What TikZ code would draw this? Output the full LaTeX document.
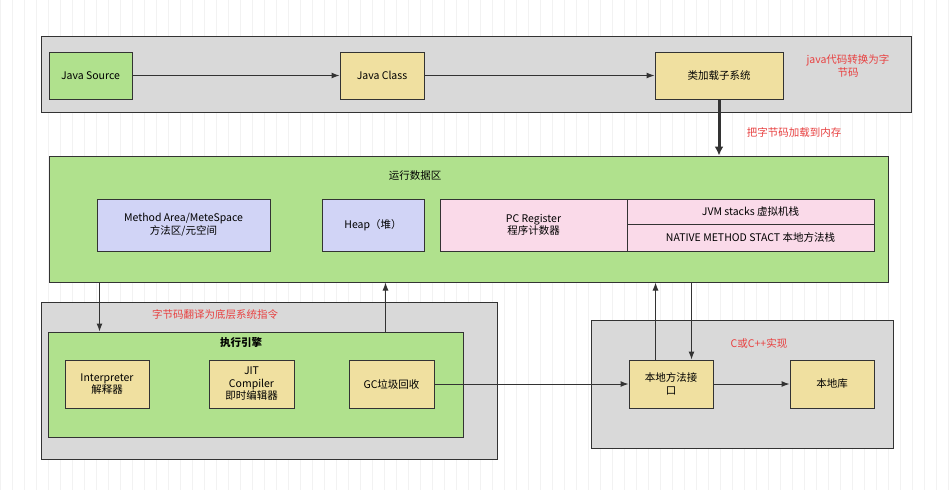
\documentclass[tikz,border=0pt]{standalone}
\usepackage{fontspec}
\setmainfont{Noto Sans CJK SC}
\usepackage{xcolor}
\usepackage{tikz}
\usetikzlibrary{arrows.meta}
\definecolor{areagray}{RGB}{217,217,217}
\definecolor{areagreen}{RGB}{176,225,141}
\definecolor{boxyellow}{RGB}{240,224,160}
\definecolor{boxblue}{RGB}{209,212,246}
\definecolor{boxpink}{RGB}{250,218,233}
\definecolor{edge}{RGB}{51,51,51}
\definecolor{notered}{RGB}{232,64,64}
\tikzset{
  box/.style={draw=edge, line width=1pt, inner sep=2pt, align=center, font=\fontsize{10.5}{12.5}\selectfont},
  grayarea/.style={box, fill=areagray},
  greenarea/.style={box, fill=areagreen},
  yellowbox/.style={box, fill=boxyellow, minimum height=48},
  bluebox/.style={box, fill=boxblue, minimum height=52},
  pinkbox/.style={box, fill=boxpink},
  note/.style={text=notered, align=center, font=\fontsize{10.5}{12.5}\selectfont},
  flow/.style={draw=edge, line width=1pt, -{Latex[length=8pt,width=6pt]}}
}
\begin{document}
\begin{tikzpicture}[x=1pt, y=-1pt]
\useasboundingbox (0,0) rectangle (952,490);
\fill[white] (0,0) rectangle (952,490);
\draw[black!5, line width=0.5pt, step=12] (0,0) grid (952,490);

\node[grayarea, minimum width=870, minimum height=76] (front) at (476,74) {};
\node[greenarea, fill=areagreen, minimum width=83, minimum height=47] (src) at (90.5,75.5) {Java Source};
\node[yellowbox, minimum width=84, minimum height=47] (jclass) at (382,75.5) {Java Class};
\node[yellowbox, minimum width=128, minimum height=47] (loader) at (719,75.5) {类加载子系统};
\node[note] (notejava) at (848,66) {java代码转换为字\\节码};

\node[greenarea, minimum width=839, minimum height=126] (runtime) at (468.5,219) {};
\node[font=\fontsize{10.5}{12.5}\selectfont] (rtitle) at (415,176) {运行数据区};
\node[bluebox, minimum width=173] (method) at (183.5,225) {Method Area/MeteSpace\\方法区/元空间};
\node[bluebox, minimum width=102] (heap) at (373,225) {Heap（堆）};
\node[pinkbox, minimum width=187, minimum height=52] (pc) at (533.5,225) {PC Register\\程序计数器};
\node[pinkbox, minimum width=247, minimum height=25] (jvms) at (750.5,211.5) {JVM stacks 虚拟机栈};
\node[pinkbox, minimum width=247, minimum height=27] (nstack) at (750.5,237.5) {NATIVE METHOD STACT 本地方法栈};
\node[note] (noteload) at (794,132) {把字节码加载到内存};

\node[grayarea, minimum width=456, minimum height=157] (execout) at (269,380.5) {};
\node[note] (notetrans) at (215,315) {字节码翻译为底层系统指令};
\node[greenarea, minimum width=415, minimum height=105] (exec) at (255.5,384.5) {};
\node[font=\fontsize{10.5}{12.5}\selectfont\bfseries] (etitle) at (241,343) {执行引擎};
\node[yellowbox, minimum width=84] (interp) at (107,384) {Interpreter\\解释器};
\node[yellowbox, minimum width=85] (jit) at (251.5,384) {JIT\\Compiler\\即时编辑器};
\node[yellowbox, minimum width=85] (gc) at (391.5,384) {GC垃圾回收};

\node[grayarea, minimum width=302, minimum height=128] (nativeout) at (742,384) {};
\node[note] (notec) at (759,343) {C或C++实现};
\node[yellowbox, minimum width=84] (nif) at (671,384) {本地方法接\\口};
\node[yellowbox, minimum width=84] (nlib) at (832,384) {本地库};

\draw[flow] (src) -- (jclass);
\draw[flow] (jclass) -- (loader);
\draw[flow, line width=3pt, -{Latex[length=9pt,width=9pt]}] (loader.south) -- (loader.south |- runtime.north);
\draw[flow] ([xshift=51]runtime.south west) -- ([xshift=52]exec.north west);
\draw[flow] ([xshift=338]exec.north west) -- ([xshift=337]runtime.south west);
\draw[flow] ([xshift=27]nif.north west) -- ([xshift=607]runtime.south west);
\draw[flow] ([xshift=643]runtime.south west) -- ([xshift=63]nif.north west);
\draw[flow] (gc) -- (nif);
\draw[flow] (nif) -- (nlib);
\end{tikzpicture}
\end{document}
